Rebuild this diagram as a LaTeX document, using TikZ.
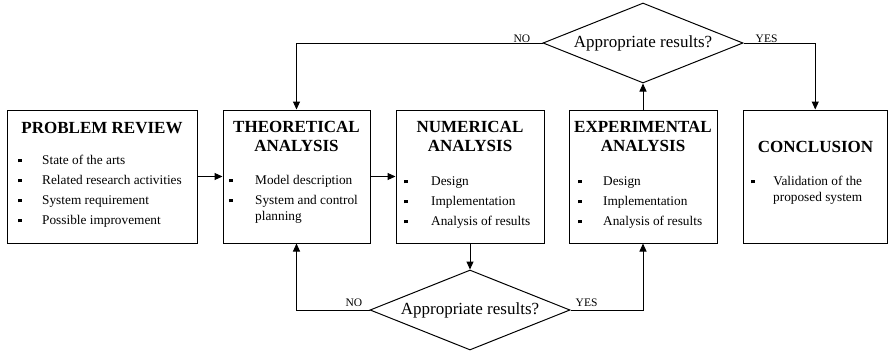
\documentclass[tikz,border=0pt]{standalone}
\usepackage{fontspec}
\setmainfont{Liberation Serif}
\usetikzlibrary{shapes.geometric,arrows.meta}

\newcommand{\bul}{\rule[1.7pt]{3.8pt}{3.8pt}}

\begin{document}
\begin{tikzpicture}[x=1pt,y=-1pt,
  box/.style={draw, line width=1pt, inner sep=0pt, minimum height=133pt},
  ttl/.style={inner sep=0pt, align=center, font=\fontsize{17}{19}\selectfont\bfseries},
  lst/.style={inner sep=0pt, anchor=base west, font=\fontsize{13.3}{20}\selectfont},
  dec/.style={draw, line width=1pt, diamond, aspect=2.5, inner sep=0pt, minimum width=200pt,
    minimum height=80pt, font=\fontsize{17}{20}\selectfont},
  lbl/.style={inner sep=1pt, font=\fontsize{11.5}{13}\selectfont},
  arr/.style={line width=1pt, -{Triangle[length=8pt,width=7pt]}}]
  \useasboundingbox (0,0) rectangle (889,351);

  %% boxes
  \node[box, minimum width=189.5pt] (review) at (102.25,176.5) {};
  \node[box, minimum width=147pt] (theo) at (296.5,176.5) {};
  \node[box, minimum width=148pt] (num) at (470,176.5) {};
  \node[box, minimum width=148pt] (exp) at (643,176.5) {};
  \node[box, minimum width=144.5pt] (concl) at (815.25,176.5) {};

  %% titles
  \node[ttl] (reviewttl) at (102,128) {PROBLEM REVIEW};
  \node[ttl] (theottl) at (296.5,136.5) {THEORETICAL\\ANALYSIS};
  \node[ttl] (numttl) at (470,136.5) {NUMERICAL\\ANALYSIS};
  \node[ttl] (expttl) at (643,136.5) {EXPERIMENTAL\\ANALYSIS};
  \node[ttl] (conclttl) at (815.5,147) {CONCLUSION};

  %% lists
  \node[lst] (reviewlst) at (18,164) {\begin{tabular}[t]{@{}p{24pt}@{}l@{}}
    \bul & State of the arts\\
    \bul & Related research activities\\
    \bul & System requirement\\
    \bul & Possible improvement
  \end{tabular}};
  \node[lst] (theolst) at (229,184) {\begin{tabular}[t]{@{}p{26pt}@{}l@{}}
    \bul & Model description\\
    \bul & System and control\\[-4pt]
         & planning
  \end{tabular}};
  \node[lst] (numlst) at (404,185) {\begin{tabular}[t]{@{}p{27pt}@{}l@{}}
    \bul & Design\\
    \bul & Implementation\\
    \bul & Analysis of results
  \end{tabular}};
  \node[lst] (explst) at (578,185) {\begin{tabular}[t]{@{}p{25pt}@{}l@{}}
    \bul & Design\\
    \bul & Implementation\\
    \bul & Analysis of results
  \end{tabular}};
  \node[lst] (concllst) at (751,185) {\begin{tabular}[t]{@{}p{22pt}@{}c@{}}
    \bul & Validation of the\\[-4pt]
         & proposed system
  \end{tabular}};

  %% decisions
  \node[dec] (dtop) at (643,43) {Appropriate results?};
  \node[dec] (dbot) at (470,310) {Appropriate results?};

  %% connectors
  \draw[arr] (review) -- (theo);
  \draw[arr] (theo) -- (num);
  \draw[arr] (num.south) -- (dbot.north);
  \draw[arr] (dbot.west) -| (theo.south);
  \draw[arr] (dbot.east) -| (exp.south);
  \draw[arr] (exp.north) -- (dtop.south);
  \draw[arr] (dtop.west) -| (theo.north);
  \draw[arr] (dtop.east) -| (concl.north);

  %% labels
  \node[lbl, anchor=south east] (nobot) at ([xshift=-6pt,yshift=2pt]dbot.west) {NO};
  \node[lbl, anchor=south west] (yesbot) at ([xshift=4pt,yshift=2pt]dbot.east) {YES};
  \node[lbl, anchor=south east] (notop) at ([xshift=-11pt,yshift=-1pt]dtop.west) {NO};
  \node[lbl, anchor=south west] (yestop) at ([xshift=11pt,yshift=-1pt]dtop.east) {YES};

\end{tikzpicture}
\end{document}
